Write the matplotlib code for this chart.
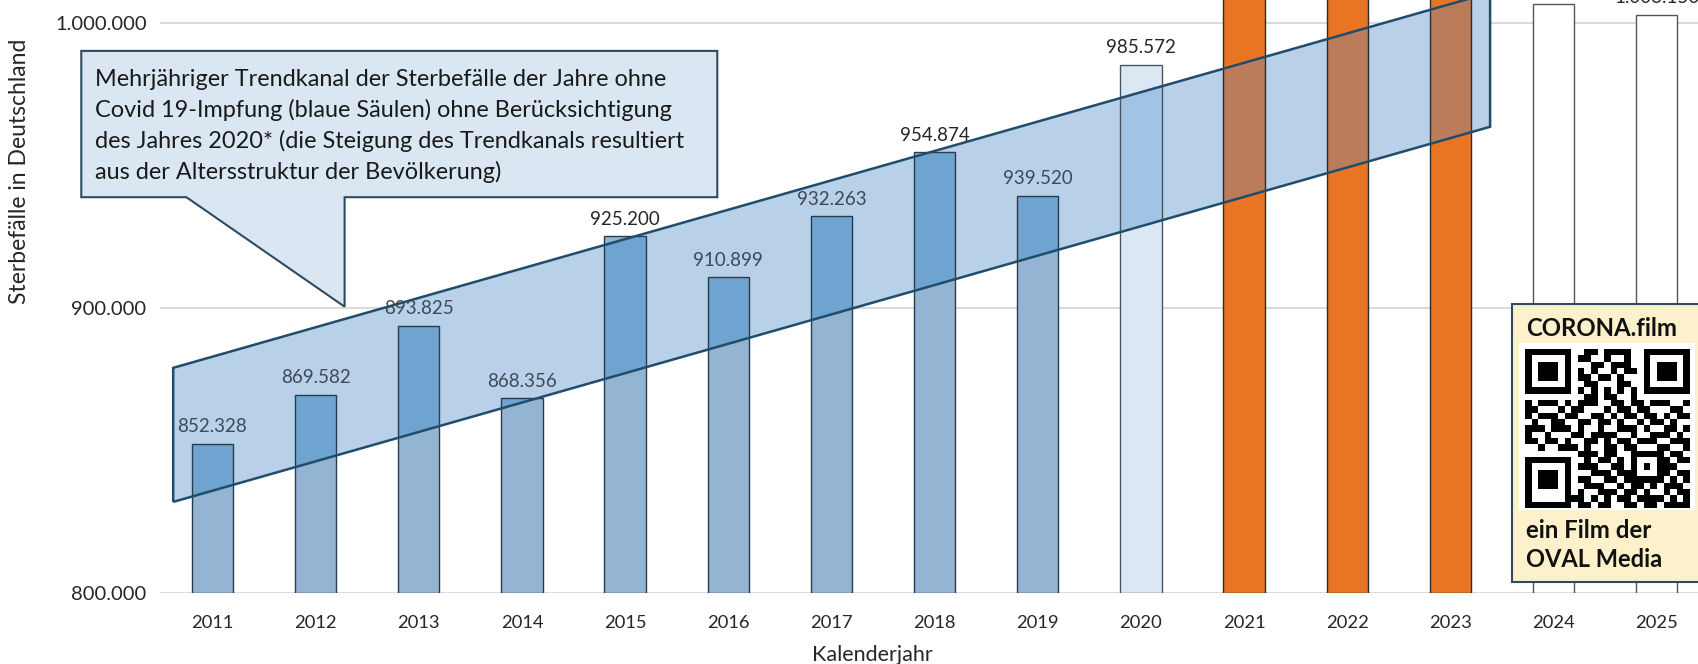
import numpy as np
import matplotlib
matplotlib.use("Agg")
import matplotlib.pyplot as plt
from matplotlib.patches import Polygon, Rectangle

plt.rcParams['font.family'] = ['Lato', 'DejaVu Sans']

# ---------------- data ----------------
years = ['2011', '2012', '2013', '2014', '2015', '2016', '2017', '2018',
         '2019', '2020', '2021', '2022', '2023', '2024', '2025']
deaths = [852328, 869582, 893825, 868356, 925200, 910899, 932263, 954874,
          939520, 985572, 1023687, 1066341, 1028206, 1007000, 1003150]
groups = ['trend'] * 9 + ['y2020'] + ['vax'] * 3 + ['new'] * 2

# trend channel (corners in data units: category index / deaths)
trend_x = [-0.38, 12.385]
trend_low = [831900, 963700]
trend_high = [879000, 1010800]

y_ticks = [800000, 900000, 1000000]
y_ticklabels = ['800.000', '900.000', '1.000.000']

callout_lines = [
    "Mehrjähriger Trendkanal der Sterbefälle der Jahre ohne",
    "Covid 19-Impfung (blaue Säulen) ohne Berücksichtigung",
    "des Jahres 2020* (die Steigung des Trendkanals resultiert",
    "aus der Altersstruktur der Bevölkerung)",
]

qr_rows = [
    "1111111001101111001111111",
    "1000001011001001001000001",
    "1011101000110111001011101",
    "1011101010100101101011101",
    "1011101011011010001011101",
    "1000001001100011001000001",
    "1111111010101010101111111",
    "0000000001101100100000000",
    "1011101011100110110111001",
    "1100010110001011011000110",
    "1011101100110101101101011",
    "0100110011011010010110100",
    "1110111010010011101001101",
    "1001000110111100100111010",
    "1101101001101011011100111",
    "0010011101001101100011001",
    "0000000011101100111110110",
    "1111111001011010100011011",
    "1000001011100110101011100",
    "1011101000111011100011011",
    "1011101011001101111110101",
    "1011101001110010110101110",
    "1000001010011101101001011",
    "1000001110101011011110101",
    "1111111011011001101101111",
]

# ---------------- style ----------------
base_col = {'trend': '#93b4d3', 'y2020': '#dbe7f2', 'vax': '#e97524', 'new': '#ffffff'}
band_col = {'trend': '#6fa4d0', 'y2020': '#a2c4e4', 'vax': '#bb7c5c', 'new': '#b9d0e9'}
edge_col = {'trend': '#2b3b4b', 'y2020': '#4a5560', 'vax': '#2b2b2b', 'new': '#555555'}

W, H = 1699, 664
fig = plt.figure(figsize=(W / 100, H / 100), dpi=100)


def fx(px):
    return px / W


def fy(py):
    return 1 - py / H


ax = fig.add_axes([fx(160.4), fy(592.7), 1 - fx(160.4), 592.7 / H])
ax.set_xlim(-0.504, 14.41)
ax.set_ylim(800000, 1008250)
for s in ax.spines.values():
    s.set_visible(False)
ax.yaxis.grid(True, color='#d9d9d9', lw=1.4, zorder=0)
ax.set_axisbelow(True)
ax.set_yticks(y_ticks)
ax.set_yticklabels(y_ticklabels, fontsize=14.5, color='#262626')
x = np.arange(len(years))
ax.set_xticks(x)
ax.set_xticklabels(years, fontsize=13.2, color='#262626')
ax.tick_params(axis='y', length=0, pad=10)
ax.tick_params(axis='x', length=0, pad=16)

bw = 0.4
bottom = 800000
heights = [d - bottom for d in deaths]

# base bars
ax.bar(x, heights, bw, bottom=bottom,
       color=[base_col[g] for g in groups],
       edgecolor=[edge_col[g] for g in groups], linewidth=1.0, zorder=2)

# trend band
verts = [(trend_x[0], trend_low[0]), (trend_x[1], trend_low[1]),
         (trend_x[1], trend_high[1]), (trend_x[0], trend_high[0])]
band = Polygon(verts, closed=True, facecolor='#b9d0e9', edgecolor='none', zorder=3)
ax.add_patch(band)

# bars inside band (clipped)
inner = ax.bar(x, heights, bw, bottom=bottom,
               color=[band_col[g] for g in groups],
               edgecolor=[edge_col[g] for g in groups], linewidth=1.0, zorder=4)
for r in inner:
    r.set_clip_path(band)

band_edge = Polygon(verts, closed=True, facecolor='none', edgecolor='#1f4d6b',
                    linewidth=1.8, zorder=5)
ax.add_patch(band_edge)


def band_upper(xx):
    t = (xx - trend_x[0]) / (trend_x[1] - trend_x[0])
    return trend_high[0] + t * (trend_high[1] - trend_high[0])


for xi, d in zip(x, deaths):
    lbl = f"{d:,}".replace(',', '.')
    inside = (d + 6000) < band_upper(xi) and xi <= trend_x[1]
    col = '#3c4a58' if inside else '#262626'
    ax.annotate(lbl, (xi, d), xytext=(0, 6), textcoords='offset points',
                ha='center', va='bottom', fontsize=13.5, color=col,
                zorder=6, annotation_clip=False)

# axis titles
fig.text(fx(872), fy(655), 'Kalenderjahr', ha='center', va='center',
         fontsize=15.5, color='#262626')
fig.text(fx(19.5), fy(171), 'Sterbefälle in Deutschland', ha='center',
         va='center', rotation=90, fontsize=16.5, color='#262626')

# callout
cpts = [(81.3, 50.9), (717.3, 50.9), (717.3, 197.2), (344.6, 197.2),
        (344.6, 306.7), (186.4, 197.2), (81.3, 197.2)]
callout = Polygon([(fx(a), fy(b)) for a, b in cpts], closed=True,
                  transform=fig.transFigure, facecolor='#dae7f3',
                  edgecolor='#2e4b60', linewidth=1.5, zorder=10)
fig.patches.append(callout)
for i, line in enumerate(callout_lines):
    fig.text(fx(95.4), fy(79.1 + i * 31.05), line, ha='left', va='center',
             fontsize=16.9, color='#1a1a1a', zorder=11)

# QR box
qrbox = Rectangle((fx(1512.3), fy(581.7)), fx(1720 - 1512.3), (581.7 - 304.3) / H,
                  transform=fig.transFigure, facecolor='#fcf1cb',
                  edgecolor='#2e4b60', linewidth=1.5, zorder=10)
fig.patches.append(qrbox)
qrbg = Rectangle((fx(1519), fy(510)), fx(1695 - 1519), (510 - 343.3) / H,
                 transform=fig.transFigure, facecolor='white',
                 edgecolor='none', zorder=11)
fig.patches.append(qrbg)
fig.text(fx(1525.7), fy(328.3), 'CORONA.film', ha='left', va='center',
         fontsize=17.3, fontweight='bold', color='#111111', zorder=12)
fig.text(fx(1525.7), fy(530), 'ein Film der', ha='left', va='center',
         fontsize=17.3, fontweight='bold', color='#111111', zorder=12)
fig.text(fx(1525.7), fy(559.3), 'OVAL Media', ha='left', va='center',
         fontsize=17, fontweight='bold', color='#111111', zorder=12)

qr = np.array([[int(c) for c in r] for r in qr_rows])
qax = fig.add_axes([fx(1525), fy(508.3), fx(1690 - 1525), (508.3 - 349.3) / H])
qax.set_zorder(13)
qax.imshow(1 - qr, cmap='gray', vmin=0, vmax=1, aspect='auto',
           interpolation='nearest')
qax.axis('off')

fig.savefig('out.png', dpi=100)
